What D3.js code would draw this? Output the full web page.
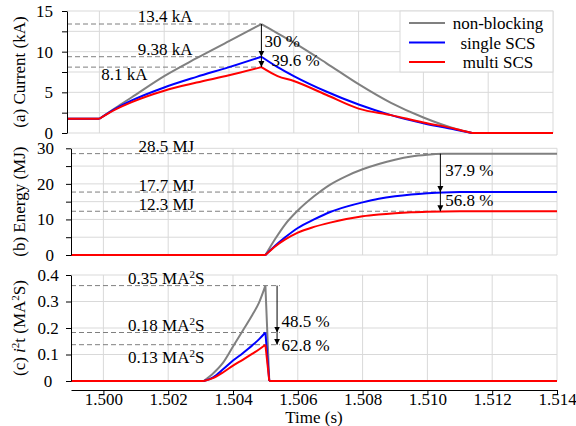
<!DOCTYPE html>
<html>
<head>
<meta charset="utf-8">
<script src="https://cdn.jsdelivr.net/npm/d3@7"></script>
<style>
  body { margin: 0; background: #fff; }
  text { font-family: "Liberation Serif", "Times New Roman", serif; font-size: 17px; fill: #000; }
</style>
</head>
<body>
<svg id="chart" width="576" height="426"></svg>
<script>
// series shared by the three panels
const seriesNames = ['non-blocking', 'single SCS', 'multi SCS'];
const seriesColors = ['#808080', '#0000ff', '#ff0000'];
const timeTicks = [1.500, 1.502, 1.504, 1.506, 1.508, 1.510, 1.512, 1.514];

// (a) current, kA
const currentTime = [1.499, 1.500, 1.5005, 1.501, 1.502, 1.503, 1.504, 1.505, 1.5055, 1.506, 1.507, 1.508, 1.509, 1.510, 1.511, 1.5115, 1.512, 1.514];
const currentNonBlocking = [1.75, 1.75, 3.1, 4.4, 7.0, 9.2, 11.3, 13.4, 12.25, 11.1, 8.6, 6.0, 3.7, 1.9, 0.5, 0, 0, 0];
const currentSingle = [1.75, 1.75, 3.0, 4.0, 5.6, 6.9, 8.1, 9.38, 8.1, 7.0, 5.1, 3.5, 2.2, 1.2, 0.4, 0, 0, 0];
const currentMulti = [1.75, 1.75, 2.9, 3.8, 5.2, 6.2, 7.1, 8.1, 7.0, 6.4, 4.7, 3.0, 2.2, 1.3, 0.5, 0, 0, 0];
const currentPeaks = [13.4, 9.38, 8.1];
const currentPeakLabels = ['13.4 kA', '9.38 kA', '8.1 kA'];
const currentReductions = ['30 %', '39.6 %'];

// (b) energy, MJ
const energyTime = [1.499, 1.505, 1.5053, 1.5056, 1.506, 1.5065, 1.507, 1.5075, 1.508, 1.5085, 1.509, 1.5095, 1.510, 1.5105, 1.511, 1.5115, 1.514];
const energyNonBlocking = [0, 0, 4.5, 8.5, 12.5, 16.5, 19.8, 22.2, 24.1, 25.6, 26.8, 27.7, 28.2, 28.45, 28.5, 28.5, 28.5];
const energySingle = [0, 0, 2.6, 4.9, 7.6, 10.0, 12.1, 13.6, 14.8, 15.8, 16.5, 17.0, 17.35, 17.6, 17.7, 17.7, 17.7];
const energyMulti = [0, 0, 2.4, 4.3, 6.3, 7.9, 9.1, 10.1, 10.9, 11.4, 11.75, 12.0, 12.15, 12.25, 12.3, 12.3, 12.3];
const energyPeaks = [28.5, 17.7, 12.3];
const energyPeakLabels = ['28.5 MJ', '17.7 MJ', '12.3 MJ'];
const energyReductions = ['37.9 %', '56.8 %'];

// (c) i2t, MA^2 s
const i2tTime = [1.499, 1.5031, 1.5034, 1.5037, 1.504, 1.5043, 1.5046, 1.5048, 1.505, 1.50512, 1.514];
const i2tNonBlocking = [0, 0, 0.03, 0.07, 0.13, 0.19, 0.25, 0.295, 0.36, 0, 0];
const i2tSingle = [0, 0, 0.015, 0.045, 0.077, 0.105, 0.135, 0.157, 0.183, 0, 0];
const i2tMulti = [0, 0, 0.012, 0.033, 0.058, 0.08, 0.103, 0.119, 0.137, 0, 0];
const i2tPeaks = [0.36, 0.183, 0.137];
const i2tPeakLabels = ['0.35 MA^2S', '0.18 MA^2S', '0.13 MA^2S'];
const i2tReductions = ['48.5 %', '62.8 %'];

// layout of each panel (pixels), kept apart from the data
const panels = [
  {
    title: '(a) Current (kA)', left: 67, right: 553, top: 11, bottom: 133, yMax: 15, tickStep: 2.5, labelStep: 5,
    labelPad: 9, labelAnchor: 'end',
    time: currentTime, values: [currentNonBlocking, currentSingle, currentMulti], corners: [1.500, 1.505, 1.5115],
    peaks: currentPeaks, peakLabels: currentPeakLabels, reductions: currentReductions,
    arrowT: 1.505, dashEndT: 1.505, labelT: [1.50203, 1.50203, 1.50077], labelDy: [-2, -2, 13],
    reductionDx: [3, 10], reductionDy: [-10, -1]
  },
  {
    title: '(b) Energy (MJ)', left: 71, right: 557, top: 148.3, bottom: 255, yMax: 30, tickStep: 5, labelStep: 10,
    labelPad: 12, labelAnchor: 'end',
    time: energyTime, values: [energyNonBlocking, energySingle, energyMulti], corners: [1.505],
    peaks: energyPeaks, peakLabels: energyPeakLabels, reductions: energyReductions,
    arrowT: 1.5104, dashEndT: 1.5104, labelT: [1.50194, 1.50194, 1.50194], labelDy: [-1.5, -1.5, -1.5],
    reductionDx: [5, 5], reductionDy: [-16, -5]
  },
  {
    title: '(c) *i*^2t (MA^2S)', left: 71, right: 557, top: 275, bottom: 381, yMax: 0.4, tickStep: 0.1, labelStep: 0.1,
    labelPad: 18, labelAnchor: 'middle',
    time: i2tTime, values: [i2tNonBlocking, i2tSingle, i2tMulti], corners: [1.5031, 1.505, 1.50512],
    peaks: i2tPeaks, peakLabels: i2tPeakLabels, reductions: i2tReductions,
    arrowT: 1.50536, dashEndT: 1.50545, labelT: [1.50194, 1.50194, 1.50194], labelDy: [-2, -2, 18],
    reductionDx: [4.5, 4.5], reductionDy: [-5.5, 6]
  }
];

const svg = d3.select('#chart');
const gridColor = '#d9d9d9';

svg.append('defs').append('marker')
  .attr('id', 'arrow')
  .attr('viewBox', '0 0 10 10')
  .attr('refX', 10).attr('refY', 5)
  .attr('markerWidth', 6).attr('markerHeight', 7)
  .attr('markerUnits', 'userSpaceOnUse')
  .attr('orient', 'auto')
  .append('path').attr('d', 'M0,0L10,5L0,10z').attr('fill', '#000');

// '^2' becomes a superscript, '*i*' italic
function richText(sel, str) {
  const parts = str.split(/(\^\d|\*[^*]+\*)/).filter(s => s);
  let raised = false;
  parts.forEach(p => {
    if (p[0] === '^') {
      sel.append('tspan').attr('dy', -6).attr('font-size', 11).text(p.slice(1));
      raised = true;
    } else {
      const t = sel.append('tspan').attr('dy', raised ? 6 : null);
      raised = false;
      if (p[0] === '*') t.attr('font-style', 'italic').text(p.slice(1, -1));
      else t.text(p);
    }
  });
}

// smooth between corners, sharp at the corners
function cornerPath(pts, corners, line) {
  const segs = [];
  let cur = [];
  pts.forEach(pt => {
    cur.push(pt);
    if (corners.some(c => Math.abs(c - pt[0]) < 1e-7)) {
      segs.push(cur);
      cur = [pt];
    }
  });
  if (cur.length > 1) segs.push(cur);
  return segs.map(s => line(s)).join('');
}

let lastX;
panels.forEach(p => {
  const x = d3.scaleLinear().domain([1.499, 1.514]).range([p.left, p.right]);
  const y = d3.scaleLinear().domain([0, p.yMax]).range([p.bottom, p.top]);
  lastX = x;
  const g = svg.append('g');
  const yTicks = d3.range(0, p.yMax + p.tickStep / 2, p.tickStep).map(v => +v.toFixed(3));

  // grid
  g.append('g').selectAll('line.h').data(yTicks).join('line')
    .attr('x1', p.left).attr('x2', p.right)
    .attr('y1', d => y(d)).attr('y2', d => y(d))
    .attr('stroke', gridColor).attr('stroke-width', 1);
  g.append('g').selectAll('line.v').data(timeTicks).join('line')
    .attr('x1', d => x(d)).attr('x2', d => x(d))
    .attr('y1', p.top).attr('y2', p.bottom)
    .attr('stroke', gridColor).attr('stroke-width', 1);

  // dashed reference lines at the peaks
  g.append('g').selectAll('line').data(p.peaks).join('line')
    .attr('x1', p.left).attr('x2', x(p.dashEndT))
    .attr('y1', d => y(d)).attr('y2', d => y(d))
    .attr('stroke', '#7f7f7f').attr('stroke-width', 1).attr('stroke-dasharray', '5,3');

  // curves
  const line = d3.line().x(d => x(d[0])).y(d => y(d[1])).curve(d3.curveMonotoneX);
  p.values.forEach((vals, i) => {
    g.append('path')
      .attr('fill', 'none')
      .attr('stroke', seriesColors[i])
      .attr('stroke-width', 2)
      .attr('stroke-linejoin', 'round')
      .attr('d', cornerPath(d3.zip(p.time, vals), p.corners, line));
  });

  // reduction arrows
  [0, 1].forEach(i => {
    g.append('line')
      .attr('x1', x(p.arrowT)).attr('x2', x(p.arrowT))
      .attr('y1', y(p.peaks[i])).attr('y2', y(p.peaks[i + 1]))
      .attr('stroke', '#000').attr('stroke-width', 1)
      .attr('marker-end', 'url(#arrow)');
    g.append('text')
      .attr('x', x(p.arrowT) + p.reductionDx[i])
      .attr('y', y(p.peaks[i + 1]) + p.reductionDy[i])
      .text(p.reductions[i]);
  });

  // peak labels
  p.peakLabels.forEach((lab, i) => {
    const t = g.append('text')
      .attr('x', x(p.labelT[i]))
      .attr('y', y(p.peaks[i]) + p.labelDy[i])
      .attr('text-anchor', 'middle');
    richText(t, lab);
  });

  // y axis
  const yAxis = d3.axisLeft(y)
    .tickValues(yTicks)
    .tickSize(5)
    .tickSizeOuter(0)
    .tickPadding(p.labelPad)
    .tickFormat(d => Math.abs(d / p.labelStep - Math.round(d / p.labelStep)) < 1e-6 ? String(d) : '');
  const ya = g.append('g').attr('transform', `translate(${p.left},0)`).call(yAxis);
  ya.selectAll('path, line').attr('stroke', '#000');
  ya.selectAll('text').attr('text-anchor', p.labelAnchor);
  ya.attr('font-size', null).attr('font-family', null);

  // y title
  const title = g.append('text')
    .attr('transform', `translate(25,${(p.top + p.bottom) / 2}) rotate(-90)`)
    .attr('text-anchor', 'middle');
  richText(title, p.title);
});

// shared time axis under the last panel
const xAxis = d3.axisBottom(lastX)
  .tickValues(timeTicks)
  .tickSize(4)
  .tickSizeOuter(0)
  .tickPadding(-1)
  .tickFormat(d3.format('.3f'));
const xa = svg.append('g').attr('transform', 'translate(0,390)').call(xAxis);
xa.attr('font-size', null).attr('font-family', null);
xa.selectAll('path, line').attr('stroke', '#000');

svg.append('text')
  .attr('x', (lastX.range()[0] + lastX.range()[1]) / 2)
  .attr('y', 423)
  .attr('text-anchor', 'middle')
  .text('Time (s)');

// legend
const legend = svg.append('g');
legend.append('rect')
  .attr('x', 400).attr('y', 11).attr('width', 153).attr('height', 61)
  .attr('fill', '#fff').attr('stroke', gridColor);
seriesNames.forEach((name, i) => {
  const ly = 23 + i * 19.5;
  legend.append('line')
    .attr('x1', 409).attr('x2', 445).attr('y1', ly).attr('y2', ly)
    .attr('stroke', seriesColors[i]).attr('stroke-width', 2);
  legend.append('text')
    .attr('x', 498).attr('y', ly + 6)
    .attr('text-anchor', 'middle')
    .text(name);
});
</script>
</body>
</html>
